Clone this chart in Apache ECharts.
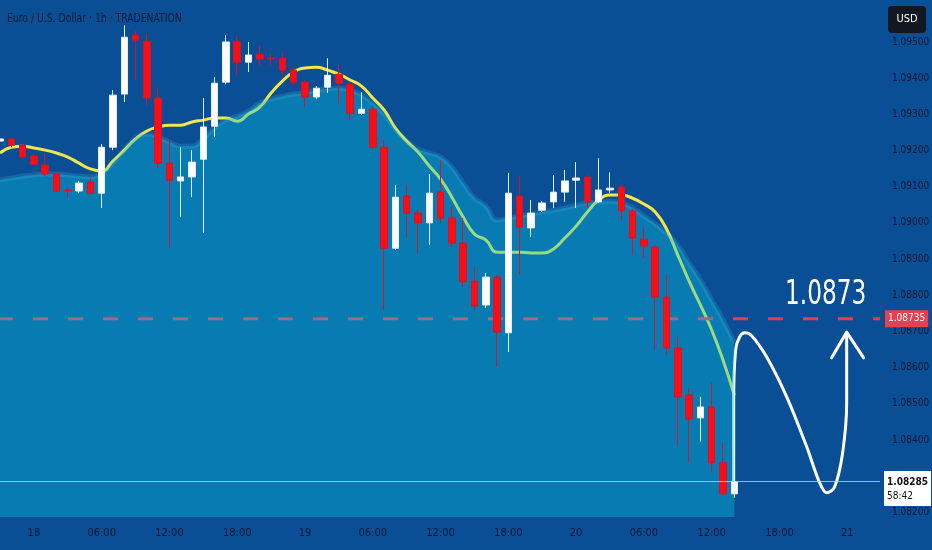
<!DOCTYPE html>
<html><head><meta charset="utf-8">
<script src="https://cdn.jsdelivr.net/npm/echarts@6/dist/echarts.min.js"></script>
<style>html,body{margin:0;padding:0;background:#0a4f96;}#c{width:932px;height:550px;}</style>
</head><body><div id="c"></div>
<script>
// hours relative to 18th 00:00 (1h candles)
const hours = [-3,-2,-1,0,1,2,3,4,5,6,7,8,9,10,11,12,13,14,15,16,17,18,19,20,21,22,23,24,25,26,27,28,29,30,31,32,33,34,35,36,37,38,39,40,41,42,43,44,45,46,47,48,49,50,51,52,53,54,55,56,57,58,59,60,61,62];
const opens = [1.09226,1.09232,1.09215,1.09185,1.09160,1.09135,1.09091,1.09088,1.09113,1.09082,1.09209,1.09356,1.09519,1.09502,1.09345,1.09165,1.09116,1.09127,1.09176,1.09267,1.09389,1.09502,1.09444,1.09466,1.09455,1.09455,1.09422,1.09389,1.09348,1.09375,1.09411,1.09383,1.09303,1.09314,1.09209,1.08930,1.09074,1.09027,1.09000,1.09085,1.09013,1.08944,1.08839,1.08773,1.08850,1.08696,1.09074,1.08986,1.09035,1.09058,1.09085,1.09118,1.09127,1.09058,1.09091,1.09099,1.09033,1.08955,1.08933,1.08795,1.08654,1.08524,1.08461,1.08491,1.08337,1.08251];
const closes = [1.09232,1.09215,1.09182,1.09162,1.09135,1.09088,1.09088,1.09110,1.09082,1.09209,1.09353,1.09513,1.09505,1.09345,1.09165,1.09118,1.09127,1.09168,1.09265,1.09386,1.09500,1.09444,1.09464,1.09453,1.09453,1.09422,1.09389,1.09348,1.09372,1.09408,1.09386,1.09303,1.09314,1.09209,1.08930,1.09071,1.09027,1.09000,1.09082,1.09013,1.08944,1.08837,1.08770,1.08850,1.08698,1.09082,1.08988,1.09027,1.09055,1.09085,1.09116,1.09124,1.09058,1.09091,1.09096,1.09033,1.08958,1.08936,1.08795,1.08654,1.08519,1.08458,1.08491,1.08337,1.08251,1.08285];
const lows = [1.09223,1.09209,1.09179,1.09160,1.09129,1.09085,1.09071,1.09082,1.09080,1.09041,1.09201,1.09334,1.09395,1.09325,1.09151,1.08930,1.09016,1.09071,1.08972,1.09237,1.09383,1.09408,1.09417,1.09436,1.09436,1.09403,1.09381,1.09320,1.09342,1.09359,1.09331,1.09284,1.09298,1.09204,1.08759,1.08925,1.08961,1.08917,1.08939,1.09000,1.08933,1.08823,1.08759,1.08765,1.08602,1.08643,1.08856,1.08961,1.09030,1.09041,1.09058,1.09041,1.09044,1.09055,1.09082,1.09008,1.08911,1.08903,1.08649,1.08635,1.08386,1.08337,1.08395,1.08312,1.08248,1.08240];
const highs = [1.09234,1.09237,1.09220,1.09190,1.09193,1.09140,1.09099,1.09116,1.09124,1.09218,1.09367,1.09546,1.09530,1.09524,1.09372,1.09229,1.09209,1.09201,1.09345,1.09403,1.09519,1.09516,1.09500,1.09491,1.09469,1.09472,1.09428,1.09395,1.09378,1.09455,1.09436,1.09389,1.09361,1.09320,1.09229,1.09105,1.09105,1.09035,1.09135,1.09174,1.09044,1.09013,1.08878,1.08861,1.08856,1.09138,1.09129,1.09063,1.09060,1.09132,1.09146,1.09168,1.09132,1.09179,1.09140,1.09105,1.09038,1.08986,1.08939,1.08856,1.08685,1.08544,1.08519,1.08558,1.08392,1.08290];
// fast moving average (yellow) and slow moving average (filled band)
const maFast = [1.09193,1.09209,1.09212,1.09207,1.09201,1.09193,1.09182,1.09165,1.09149,1.09143,1.09171,1.09201,1.09232,1.09254,1.09265,1.09270,1.09270,1.09279,1.09284,1.09290,1.09290,1.09281,1.09301,1.09320,1.09359,1.09392,1.09417,1.09428,1.09430,1.09422,1.09411,1.09395,1.09378,1.09345,1.09312,1.09262,1.09226,1.09196,1.09157,1.09121,1.09071,1.09016,1.08969,1.08953,1.08919,1.08919,1.08919,1.08917,1.08917,1.08928,1.08958,1.08991,1.09030,1.09063,1.09077,1.09077,1.09068,1.09052,1.09030,1.08983,1.08911,1.08839,1.08773,1.08704,1.08621,1.08524];
const maSlow = [1.09118,1.09124,1.09129,1.09132,1.09135,1.09135,1.09132,1.09129,1.09127,1.09138,1.09165,1.09201,1.09234,1.09245,1.09237,1.09223,1.09212,1.09212,1.09234,1.09262,1.09284,1.09295,1.09309,1.09331,1.09342,1.09350,1.09356,1.09359,1.09367,1.09370,1.09372,1.09367,1.09353,1.09331,1.09301,1.09259,1.09226,1.09204,1.09193,1.09182,1.09154,1.09110,1.09069,1.09047,1.09008,1.09013,1.09019,1.09024,1.09030,1.09035,1.09041,1.09049,1.09055,1.09058,1.09060,1.09055,1.09041,1.09019,1.08997,1.08972,1.08939,1.08889,1.08842,1.08787,1.08732,1.08671];
const xTickHours = [0,6,12,18,24,30,36,42,48,54,60,66,72];
const xTickLabels = ['18','06:00','12:00','18:00','19','06:00','12:00','18:00','20','06:00','12:00','18:00','21'];
const yTicks = [1.082,1.083,1.084,1.085,1.086,1.087,1.088,1.089,1.090,1.091,1.092,1.093,1.094,1.095];
const targetLevel = 1.08735;
const targetText = '1.0873';
const lastPrice = 1.08285;
const countdown = '58:42';
const title = 'Euro / U.S. Dollar · 1h · TRADENATION';
// hand-drawn projection path [hour, price]
const pathHours  = [61.95,61.95,62.12,62.48,62.92,63.54,64.87,66.64,68.41,69.56,70.18,70.88,71.59,71.95,71.95];
const pathPrices = [1.08256,1.08511,1.08649,1.08685,1.08696,1.08688,1.08629,1.08519,1.08381,1.08281,1.08254,1.08270,1.08364,1.08502,1.08690];
const arrowHours  = [70.62,71.95,73.45];
const arrowPrices = [1.08627,1.08698,1.08627];
const targetTextPos = [70.09, 1.08801];

const X_MIN = -3, X_MAX = 74.9, Y_MIN = 1.08187, Y_MAX = 1.09616;
const COND = "'DejaVu Sans Condensed','DejaVu Sans',sans-serif";
const zip = (a, b) => a.map((v, i) => [v, b[i]]);

const chart = echarts.init(document.getElementById('c'), null, {renderer: 'canvas'});
chart.setOption({
  animation: false,
  backgroundColor: '#0a4f96',
  grid: {left: 0, right: 52, top: 0, bottom: 33, outerBoundsMode: 'none', containLabel: false},
  xAxis: {
    type: 'value', min: X_MIN, max: X_MAX,
    axisLine: {show: false}, axisTick: {show: false}, splitLine: {show: false},
    axisLabel: {
      customValues: xTickHours, margin: 11,
      formatter: v => xTickLabels[xTickHours.indexOf(v)],
      color: '#0b1830', fontSize: 11, fontFamily: COND
    }
  },
  yAxis: {
    type: 'value', position: 'right', min: Y_MIN, max: Y_MAX, scale: true,
    axisLine: {show: false}, axisTick: {show: false}, splitLine: {show: false},
    axisLabel: {
      customValues: yTicks, margin: 12,
      formatter: v => v.toFixed(5),
      color: '#0b1830', fontSize: 10, fontFamily: COND
    }
  },
  series: [
    {
      type: 'line', z: 1, data: zip(hours, maFast), smooth: true, symbol: 'none',
      lineStyle: {color: '#f2e64a', width: 3}
    },
    {
      type: 'line', z: 1, data: [[X_MIN, targetLevel], [X_MAX, targetLevel]], symbol: 'none',
      lineStyle: {color: '#ee3a4c', width: 3, type: [15, 20], dashOffset: 2},
      endLabel: {
        show: true, formatter: targetLevel.toFixed(5), color: '#ffffff', backgroundColor: '#e8404f',
        padding: [4, 3, 3, 3], fontSize: 10, fontFamily: COND, distance: 5
      }
    },
    {
      type: 'line', z: 1, data: zip(pathHours, pathPrices), smooth: 0.35, symbol: 'none',
      lineStyle: {color: '#ffffff', width: 3, cap: 'round'}
    },
    {
      type: 'line', z: 1, data: zip(arrowHours, arrowPrices), symbol: 'none',
      lineStyle: {color: '#ffffff', width: 3, cap: 'round', join: 'round'}
    },
    {
      type: 'line', z: 2, data: zip(hours, maSlow), smooth: true, symbol: 'none',
      lineStyle: {width: 5, color: 'rgba(90,205,235,0.18)'},
      areaStyle: {color: 'rgba(6,198,226,0.53)', origin: 'start'}
    },
    {
      type: 'candlestick', z: 3, barWidth: 7,
      data: hours.map((h, i) => [h, opens[i], closes[i], lows[i], highs[i]]),
      encode: {x: 0, y: [1, 2, 3, 4]},
      itemStyle: {color: '#ffffff', color0: '#fb0d16', borderColor: '#dcefff', borderColor0: '#d4142a', borderWidth: 1}
    },
    {
      type: 'line', z: 4, data: [[X_MIN, lastPrice], [X_MAX, lastPrice]], symbol: 'none',
      lineStyle: {color: 'rgba(150,220,248,0.85)', width: 1},
      endLabel: {
        show: true, formatter: '{a|' + lastPrice.toFixed(5) + '}\n{b|' + countdown + '}',
        backgroundColor: '#ffffff', padding: [4, 3, 3, 3], distance: 4, offset: [0, 7],
        rich: {
          a: {color: '#111', fontSize: 10, fontWeight: 'bold', fontFamily: COND, lineHeight: 14},
          b: {color: '#111', fontSize: 10, fontFamily: COND, lineHeight: 14}
        }
      }
    }
  ]
});

// overlay texts: title / currency badge (chart chrome) and the target annotation placed through the axes
const tp = chart.convertToPixel({gridIndex: 0}, targetTextPos);
chart.setOption({
  graphic: [
    {type: 'text', x: 7, y: 13, scaleX: 0.86, z: 10, style: {text: title, fill: '#0c1a33', font: '12px ' + COND}},
    {type: 'rect', z: 10, shape: {x: 888, y: 6, width: 38, height: 27, r: 4}, style: {fill: '#131722'}},
    {type: 'text', z: 11, x: 907, y: 19.5, style: {text: 'USD', fill: '#ffffff', font: '11px ' + COND, align: 'center', verticalAlign: 'middle'}},
    {type: 'text', z: 12, x: tp[0], y: tp[1], scaleX: 0.76, originX: 0, originY: 0,
     style: {text: targetText, fill: '#ffffff', font: '34px ' + COND, align: 'center', verticalAlign: 'middle'}}
  ]
});
</script></body></html>
